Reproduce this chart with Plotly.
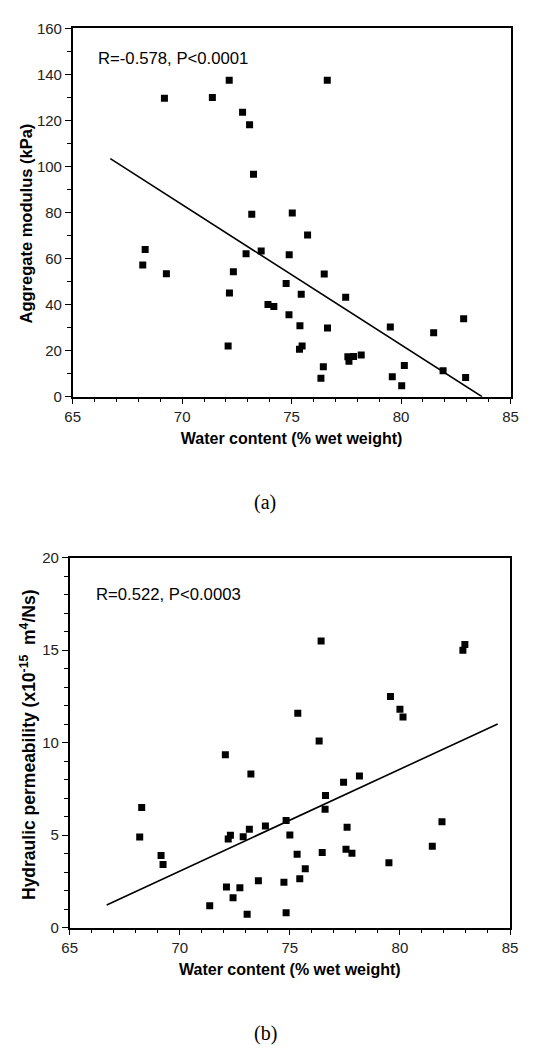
import plotly.graph_objects as go

# ---- Panel (a): aggregate modulus vs water content ----
water_a = [69.19, 71.38, 72.15, 72.76, 73.08, 73.26, 73.18, 75.03, 75.73, 76.63,
           68.31, 68.20, 69.28, 72.92, 73.61, 74.89, 72.34, 72.16, 73.92, 74.19,
           74.75, 74.88, 75.44, 75.38, 75.36, 75.48, 72.10, 76.49, 76.64, 76.45,
           76.34, 77.47, 77.57, 77.62, 77.83, 78.18, 79.51, 79.60, 80.03, 80.15,
           81.49, 81.92, 82.86, 82.95]
modulus_a = [129.6, 130.0, 137.5, 123.6, 118.1, 96.6, 79.2, 79.8, 70.2, 137.5,
             63.9, 57.2, 53.4, 62.1, 63.3, 61.7, 54.3, 45.0, 40.0, 39.2,
             49.2, 35.6, 44.5, 30.8, 20.6, 22.0, 22.0, 53.3, 29.8, 13.0,
             8.0, 43.2, 17.4, 15.4, 17.5, 18.1, 30.3, 8.7, 4.8, 13.5,
             27.8, 11.3, 33.9, 8.3]
fit_x_a = [66.72, 83.70]
fit_y_a = [103.4, 0.0]

# ---- Panel (b): hydraulic permeability vs water content ----
water_b = [76.42, 82.86, 82.95, 79.57, 80.00, 80.14, 75.36, 76.33, 72.07, 73.23,
           78.16, 77.44, 76.62, 76.60, 68.27, 68.18, 69.15, 69.24, 74.83, 77.60,
           81.91, 73.16, 73.89, 72.30, 72.20, 72.88, 75.00, 75.33, 76.47, 77.55,
           77.82, 81.47, 79.50, 75.70, 75.45, 73.57, 74.73, 72.12, 72.73, 72.42,
           71.36, 73.06, 74.83]
perm_b = [15.5, 15.0, 15.3, 12.49, 11.8, 11.39, 11.59, 10.09, 9.35, 8.31,
          8.2, 7.86, 7.14, 6.4, 6.5, 4.9, 3.9, 3.41, 5.79, 5.43,
          5.73, 5.32, 5.5, 4.99, 4.79, 4.92, 5.01, 3.97, 4.06, 4.24,
          4.02, 4.4, 3.51, 3.19, 2.65, 2.54, 2.45, 2.2, 2.16, 1.62,
          1.19, 0.72, 0.81]
fit_x_b = [66.68, 84.44]
fit_y_b = [1.23, 11.01]

x_title = "Water content (% wet weight)"
y_title_a = "Aggregate modulus (kPa)"
y_title_b = "Hydraulic permeability (x10<sup>-15</sup>  m<sup>4</sup>/Ns)"

FONT = "Arial, Liberation Sans, sans-serif"
SERIF = "Times New Roman, Liberation Serif, serif"

fig = go.Figure()
fig.add_trace(go.Scatter(x=water_a, y=modulus_a, mode="markers",
                         marker=dict(symbol="square", size=7, color="black"),
                         xaxis="x", yaxis="y", showlegend=False))
fig.add_trace(go.Scatter(x=fit_x_a, y=fit_y_a, mode="lines",
                         line=dict(color="black", width=1.6),
                         xaxis="x", yaxis="y", showlegend=False))
fig.add_trace(go.Scatter(x=water_b, y=perm_b, mode="markers",
                         marker=dict(symbol="square", size=7, color="black"),
                         xaxis="x2", yaxis="y2", showlegend=False))
fig.add_trace(go.Scatter(x=fit_x_b, y=fit_y_b, mode="lines",
                         line=dict(color="black", width=1.6),
                         xaxis="x2", yaxis="y2", showlegend=False))

axis_common = dict(showline=True, linecolor="black", linewidth=1.5, mirror=True,
                   ticks="outside", ticklen=6, tickwidth=1.2, tickcolor="black",
                   showgrid=False, zeroline=False, automargin=False,
                   tickfont=dict(family=FONT, size=15, color="#222"))
title_font = dict(family=FONT, size=16, color="black", weight="bold")

fig.update_layout(
    width=545, height=1050,
    margin=dict(l=0, r=0, t=0, b=0),
    paper_bgcolor="white", plot_bgcolor="white",
    xaxis=dict(domain=[0.1334, 0.9367], anchor="y", range=[65, 85], dtick=5,
               minor=dict(dtick=1, ticks="outside", ticklen=4, tickcolor="black"),
               title=dict(text=x_title, font=title_font, standoff=8),
               **axis_common),
    yaxis=dict(domain=[0.6222, 0.9730], anchor="x", range=[0, 160], dtick=20,
               minor=dict(dtick=10, ticks="outside", ticklen=4, tickcolor="black"),
               **axis_common),
    xaxis2=dict(domain=[0.1279, 0.9358], anchor="y2", range=[65, 85], dtick=5,
                minor=dict(dtick=1, ticks="outside", ticklen=4, tickcolor="black"),
                title=dict(text=x_title, font=title_font, standoff=8),
                **axis_common),
    yaxis2=dict(domain=[0.1165, 0.4689], anchor="x2", range=[0, 20], dtick=5,
                minor=dict(dtick=1, ticks="outside", ticklen=4, tickcolor="black"),
                **axis_common),
    annotations=[
        dict(text=y_title_a, xref="paper", yref="paper", x=25/545, y=1 - 223.5/1050,
             xanchor="center", yanchor="middle", textangle=-90, showarrow=False,
             font=dict(family=FONT, size=16.5, color="black", weight="bold")),
        dict(text=y_title_b, xref="paper", yref="paper", x=27.5/545, y=1 - 744.5/1050,
             xanchor="center", yanchor="middle", textangle=-90, showarrow=False,
             font=dict(family=FONT, size=17.5, color="black", weight="bold")),
        dict(text="R=-0.578, P<0.0001", xref="x domain", yref="y domain",
             x=0.053, y=0.919, xanchor="left", yanchor="middle", showarrow=False,
             font=dict(family=FONT, size=16.7, color="black")),
        dict(text="R=0.522, P<0.0003", xref="x2 domain", yref="y2 domain",
             x=0.055, y=0.9, xanchor="left", yanchor="middle", showarrow=False,
             font=dict(family=FONT, size=16.7, color="black")),
        dict(text="(a)", xref="paper", yref="paper", x=265/545, y=1 - 502/1050,
             xanchor="center", yanchor="middle", showarrow=False,
             font=dict(family=SERIF, size=20, color="black")),
        dict(text="(b)", xref="paper", yref="paper", x=265/545, y=1 - 1033/1050,
             xanchor="center", yanchor="middle", showarrow=False,
             font=dict(family=SERIF, size=20, color="black")),
    ],
)

fig.write_html("out.html", config={"displayModeBar": False},
               post_script="document.body.style.margin='0';document.body.style.overflow='hidden';")
